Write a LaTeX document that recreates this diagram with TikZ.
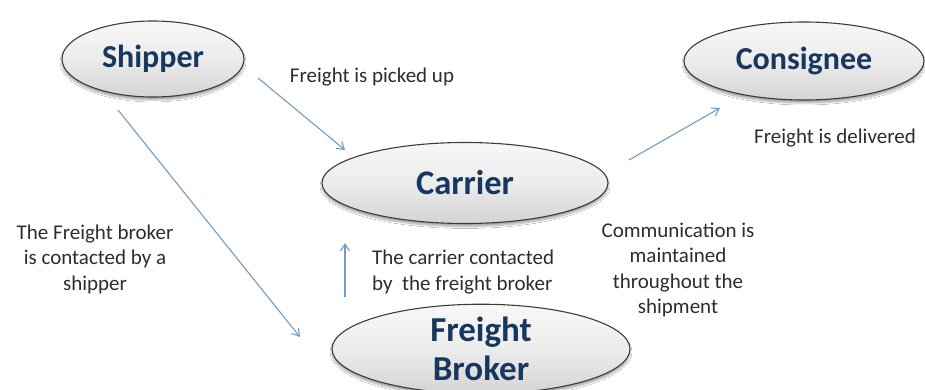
\documentclass[tikz,border=0pt]{standalone}
\usepackage{fontspec}
\setmainfont{Carlito}
\usetikzlibrary{arrows.meta,shapes.geometric,shadows.blur}

\definecolor{navy}{RGB}{23,55,94}
\definecolor{ink}{RGB}{45,45,45}
\definecolor{edgegray}{RGB}{60,60,60}
\definecolor{flow}{RGB}{115,155,202}

\tikzset{
  party/.style={ellipse, draw=edgegray, line width=1.1pt, inner sep=0pt,
    top color=gray!6, bottom color=gray!34, middle color=gray!15,
    blur shadow={shadow blur steps=8, shadow xshift=0pt, shadow yshift=-3pt,
      shadow opacity=35},
    font=\fontsize{32}{36}\selectfont\bfseries, text=navy, align=center},
  note/.style={font=\fontsize{21}{25.5}\selectfont, text=ink, align=center,
    inner sep=0pt},
  flowarrow/.style={draw=flow, line width=1.1pt,
    -{Straight Barb[length=7pt,width=9pt,line width=1.1pt]}},
}

\begin{document}
\begin{tikzpicture}[x=1pt,y=-1pt]
  \useasboundingbox (0,0) rectangle (925,390);
  \fill[white] (0,0) rectangle (925,390);
  \clip (0,0) rectangle (925,390);

  % parties
  \node[party, minimum width=182pt, minimum height=76pt]  (shipper)   at (153,59)  {Shipper};
  \node[party, minimum width=240pt, minimum height=78pt]  (consignee) at (804,61)  {Consignee};
  \node[party, minimum width=286pt, minimum height=81pt,
        font=\fontsize{34.5}{38}\selectfont\bfseries]    (carrier)   at (465,183) {Carrier};
  \node[party, minimum width=298pt, minimum height=80pt,
        font=\fontsize{35}{38.5}\selectfont\bfseries]    (broker)    at (481,349) {Freight\\Broker};

  % flows between the parties
  \draw[flowarrow] ([shift={(105,19)}]shipper.center)  -- ([shift={(-120,-33)}]carrier.center);
  \draw[flowarrow] ([shift={(-35,51)}]shipper.center)  -- ([shift={(-181,-12)}]broker.center);
  \draw[flowarrow] ([shift={(164,-23)}]carrier.center) -- ([shift={(-84,47)}]consignee.center);
  \draw[flowarrow] ([shift={(-136,-52)}]broker.center) -- ([shift={(-120,60)}]carrier.center);

  % descriptions
  \node[note] (picked)    at (372,77)  {Freight is picked up};
  \node[note] (delivered) at (835,138) {Freight is delivered};
  \node[note] (contacted) at (95,259)  {The Freight broker\\is contacted by a\\shipper};
  \node[note, align=left, anchor=west] (carriernote) at (372,272) {The carrier contacted\\by\ \ the freight broker};
  \node[note] (comm)      at (678,270) {Communication is\\maintained\\throughout the\\shipment};
\end{tikzpicture}
\end{document}
